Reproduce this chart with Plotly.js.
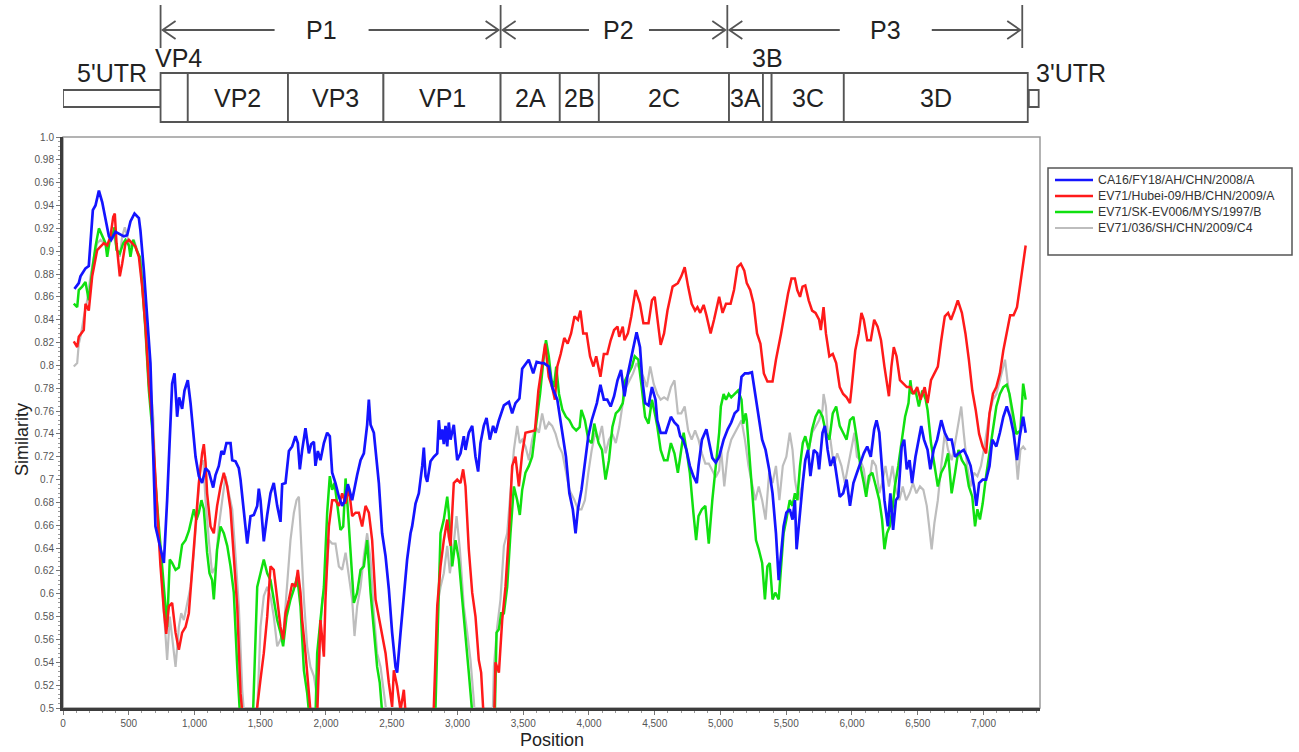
<!DOCTYPE html>
<html>
<head>
<meta charset="utf-8">
<script src="https://cdn.plot.ly/plotly-3.0.1.min.js"></script>
<style>html,body{margin:0;padding:0;background:#fff;}#chart{width:1299px;height:752px;}</style>
</head>
<body>
<div id="chart"></div>
<script>
// ---------------- DATA ----------------
const seriesNames = ['CA16/FY18/AH/CHN/2008/A', 'EV71/Hubei-09/HB/CHN/2009/A', 'EV71/SK-EV006/MYS/1997/B', 'EV71/036/SH/CHN/2009/C4'];
const seriesColors = ['#1414ff', '#ff1a1a', '#10e010', '#bdbdbd'];

const blueX = [87,120,133,171,196,227,247,273,298,323,349,366,399,463,488,513,544,577,589,615,640,665,703,741,767,792,818,830,848,868,883,906,924,949,970,990,1008,1033,1058,1084,1109,1142,1160,1185,1205,1223,1243,1274,1287,1312,1337,1350,1370,1388,1401,1426,1451,1477,1489,1502,1527,1553,1578,1603,1629,1654,1667,1692,1718,1743,1768,1786,1801,1819,1844,1870,1887,1908,1920,1938,1958,1984,2009,2029,2047,2072,2098,2123,2141,2166,2199,2237,2263,2288,2313,2326,2339,2364,2377,2402,2427,2453,2478,2503,2529,2541,2567,2592,2617,2643,2655,2681,2706,2732,2744,2757,2770,2795,2820,2846,2858,2871,2884,2896,2909,2922,2934,2947,2972,2998,3023,3048,3061,3086,3112,3137,3157,3175,3200,3221,3246,3271,3289,3315,3340,3353,3391,3416,3441,3471,3492,3523,3542,3576,3602,3636,3657,3695,3720,3759,3798,3825,3851,3877,3898,3916,3943,3969,3995,4021,4060,4087,4113,4139,4165,4191,4217,4244,4270,4296,4335,4362,4388,4406,4427,4453,4479,4506,4519,4545,4584,4623,4650,4676,4694,4715,4741,4767,4794,4820,4833,4859,4893,4911,4938,4964,4990,5024,5055,5082,5108,5134,5160,5186,5213,5239,5265,5291,5317,5343,5370,5396,5422,5443,5461,5480,5501,5527,5548,5566,5579,5600,5626,5645,5666,5684,5710,5736,5750,5776,5794,5815,5836,5862,5880,5907,5933,5959,5985,6011,6038,6064,6090,6116,6143,6169,6187,6208,6229,6247,6273,6292,6313,6334,6352,6378,6397,6417,6438,6457,6483,6509,6527,6548,6575,6596,6621,6648,6679,6706,6731,6758,6784,6810,6850,6876,6902,6928,6946,6967,6994,7020,7046,7067,7098,7125,7151,7177,7203,7229,7255,7276,7302,7321];
const blueY = [0.867,0.872,0.878,0.885,0.887,0.936,0.940,0.953,0.943,0.927,0.913,0.910,0.917,0.913,0.914,0.926,0.933,0.929,0.918,0.883,0.842,0.802,0.659,0.639,0.627,0.682,0.755,0.784,0.793,0.755,0.772,0.762,0.778,0.787,0.767,0.743,0.720,0.703,0.697,0.710,0.707,0.693,0.704,0.712,0.725,0.722,0.732,0.732,0.717,0.716,0.710,0.700,0.677,0.653,0.644,0.668,0.669,0.677,0.692,0.682,0.646,0.669,0.688,0.697,0.677,0.663,0.696,0.697,0.725,0.729,0.738,0.732,0.709,0.726,0.745,0.723,0.731,0.733,0.712,0.725,0.717,0.732,0.741,0.738,0.706,0.697,0.685,0.677,0.681,0.696,0.682,0.704,0.717,0.723,0.748,0.770,0.748,0.741,0.726,0.697,0.653,0.633,0.604,0.566,0.536,0.531,0.566,0.601,0.630,0.653,0.659,0.679,0.688,0.712,0.728,0.703,0.698,0.716,0.720,0.723,0.752,0.735,0.744,0.731,0.747,0.729,0.750,0.735,0.748,0.717,0.723,0.738,0.726,0.741,0.747,0.720,0.707,0.732,0.747,0.754,0.735,0.747,0.741,0.752,0.761,0.765,0.768,0.758,0.767,0.771,0.797,0.802,0.805,0.793,0.803,0.802,0.802,0.799,0.781,0.770,0.740,0.720,0.688,0.674,0.653,0.674,0.691,0.717,0.738,0.752,0.767,0.783,0.770,0.770,0.764,0.773,0.787,0.796,0.773,0.793,0.813,0.829,0.816,0.787,0.767,0.765,0.781,0.770,0.752,0.741,0.741,0.755,0.750,0.747,0.738,0.735,0.726,0.712,0.703,0.697,0.712,0.735,0.744,0.735,0.719,0.715,0.720,0.735,0.744,0.750,0.758,0.761,0.790,0.793,0.793,0.794,0.775,0.755,0.735,0.726,0.709,0.688,0.653,0.612,0.639,0.659,0.671,0.674,0.665,0.682,0.639,0.668,0.697,0.717,0.726,0.703,0.726,0.723,0.709,0.741,0.747,0.726,0.712,0.720,0.706,0.685,0.688,0.700,0.677,0.697,0.706,0.715,0.723,0.729,0.720,0.744,0.752,0.741,0.706,0.682,0.659,0.688,0.656,0.682,0.685,0.729,0.735,0.709,0.717,0.697,0.720,0.735,0.747,0.735,0.726,0.709,0.726,0.735,0.752,0.741,0.735,0.735,0.720,0.723,0.726,0.720,0.712,0.694,0.677,0.697,0.700,0.700,0.712,0.735,0.729,0.741,0.755,0.764,0.755,0.741,0.717,0.738,0.755,0.741];

const redX = [82,108,120,146,158,171,196,222,260,285,311,336,361,382,394,407,432,450,475,501,526,551,577,602,627,653,678,716,741,767,785,805,830,856,881,906,932,957,982,1008,1033,1058,1071,1084,1096,1122,1147,1172,1198,1223,1249,1274,1299,1325,1350,1363,1410,1465,1477,1502,1527,1553,1578,1603,1629,1654,1674,1692,1718,1743,1768,1786,1806,1819,1844,1870,1882,1910,1935,1958,1984,1996,2022,2047,2072,2098,2123,2149,2174,2199,2225,2250,2275,2301,2326,2351,2377,2402,2427,2453,2478,2503,2516,2541,2567,2592,2605,2700,2800,2820,2846,2871,2896,2922,2934,2947,2972,2998,3023,3043,3061,3086,3112,3137,3162,3180,3195,3240,3275,3289,3315,3340,3365,3391,3416,3441,3467,3492,3517,3555,3589,3615,3641,3667,3694,3720,3741,3759,3785,3812,3838,3864,3890,3916,3935,3956,3982,4008,4034,4055,4087,4113,4139,4165,4191,4217,4230,4257,4270,4296,4322,4354,4388,4414,4453,4479,4500,4519,4545,4571,4597,4636,4676,4702,4728,4754,4781,4807,4825,4846,4872,4893,4925,4951,4990,5016,5042,5077,5103,5129,5155,5181,5200,5226,5252,5278,5304,5330,5357,5396,5422,5461,5488,5514,5540,5566,5584,5605,5624,5645,5671,5697,5723,5750,5763,5784,5802,5828,5854,5880,5907,5933,5959,5985,5998,6025,6051,6072,6090,6116,6143,6169,6195,6221,6247,6281,6300,6318,6339,6365,6391,6417,6444,6470,6496,6522,6553,6575,6601,6627,6653,6679,6706,6731,6753,6779,6805,6836,6863,6889,6915,6941,6967,6994,7020,7046,7072,7098,7125,7151,7177,7203,7229,7255,7281,7302,7321];
const redY = [0.821,0.816,0.825,0.829,0.831,0.854,0.848,0.878,0.901,0.904,0.907,0.905,0.913,0.930,0.933,0.907,0.878,0.889,0.907,0.910,0.907,0.904,0.895,0.869,0.834,0.784,0.752,0.668,0.625,0.585,0.565,0.589,0.592,0.566,0.551,0.566,0.571,0.583,0.618,0.656,0.697,0.723,0.731,0.715,0.688,0.659,0.653,0.677,0.694,0.706,0.694,0.674,0.636,0.589,0.513,0.498,0.440,0.470,0.501,0.525,0.548,0.580,0.624,0.621,0.595,0.571,0.560,0.583,0.595,0.609,0.606,0.621,0.601,0.577,0.548,0.513,0.498,0.460,0.500,0.577,0.545,0.595,0.659,0.682,0.682,0.677,0.688,0.679,0.693,0.668,0.671,0.671,0.659,0.677,0.671,0.647,0.595,0.580,0.566,0.548,0.522,0.501,0.533,0.519,0.498,0.516,0.496,0.440,0.460,0.501,0.589,0.624,0.647,0.665,0.650,0.642,0.697,0.700,0.697,0.709,0.694,0.639,0.601,0.580,0.542,0.531,0.500,0.460,0.470,0.540,0.531,0.577,0.606,0.653,0.712,0.720,0.694,0.723,0.741,0.742,0.743,0.778,0.799,0.819,0.790,0.781,0.770,0.799,0.810,0.824,0.819,0.828,0.843,0.840,0.848,0.828,0.828,0.808,0.799,0.808,0.790,0.810,0.810,0.822,0.831,0.834,0.825,0.834,0.822,0.828,0.843,0.866,0.854,0.837,0.837,0.857,0.860,0.840,0.818,0.828,0.848,0.869,0.872,0.878,0.886,0.869,0.854,0.848,0.851,0.846,0.853,0.844,0.828,0.840,0.860,0.846,0.854,0.854,0.866,0.886,0.889,0.883,0.872,0.866,0.854,0.828,0.819,0.793,0.786,0.786,0.805,0.828,0.848,0.863,0.876,0.876,0.866,0.860,0.869,0.870,0.857,0.848,0.846,0.840,0.831,0.851,0.828,0.808,0.810,0.802,0.781,0.775,0.772,0.767,0.781,0.813,0.828,0.846,0.840,0.822,0.822,0.840,0.834,0.822,0.799,0.773,0.799,0.816,0.808,0.787,0.784,0.781,0.781,0.775,0.781,0.770,0.781,0.767,0.787,0.793,0.799,0.822,0.843,0.846,0.840,0.848,0.857,0.846,0.828,0.805,0.778,0.761,0.740,0.729,0.723,0.758,0.775,0.781,0.793,0.813,0.828,0.844,0.844,0.851,0.872,0.892,0.905];

const greenX = [82,108,120,146,171,196,222,247,273,298,323,336,356,374,392,407,432,458,475,501,513,534,559,584,602,627,653,678,703,729,754,772,792,812,830,856,881,906,932,957,977,995,1015,1033,1053,1071,1096,1114,1134,1147,1172,1198,1223,1249,1274,1299,1325,1345,1400,1440,1446,1462,1477,1502,1527,1553,1578,1603,1629,1654,1674,1700,1730,1756,1781,1806,1832,1857,1870,1900,1915,1933,1958,1984,2009,2029,2047,2065,2085,2110,2131,2149,2166,2187,2212,2237,2263,2288,2313,2339,2364,2389,2409,2427,2550,2750,2830,2846,2871,2896,2922,2934,2960,2985,3010,3036,3061,3086,3112,3200,3285,3297,3315,3332,3353,3378,3403,3429,3454,3474,3492,3517,3543,3568,3589,3628,3654,3673,3694,3715,3733,3751,3772,3798,3825,3851,3877,3903,3929,3942,3969,3995,4021,4040,4073,4099,4126,4152,4178,4204,4230,4257,4275,4301,4327,4348,4375,4401,4427,4453,4479,4506,4519,4545,4571,4597,4623,4650,4676,4694,4720,4741,4767,4794,4815,4833,4859,4885,4911,4938,4964,4990,5003,5024,5042,5063,5082,5108,5134,5160,5173,5192,5200,5226,5252,5270,5291,5317,5338,5357,5375,5396,5417,5443,5461,5480,5501,5527,5548,5566,5584,5605,5626,5645,5671,5697,5723,5750,5776,5802,5828,5854,5880,5907,5933,5959,5985,6011,6038,6064,6090,6108,6129,6155,6182,6208,6229,6247,6266,6287,6308,6326,6352,6378,6404,6430,6444,6457,6483,6509,6535,6561,6575,6601,6627,6653,6679,6706,6731,6758,6784,6810,6836,6863,6889,6915,6936,6954,6973,6994,7020,7046,7072,7098,7125,7151,7177,7198,7224,7250,7281,7302,7321];
const greenY = [0.854,0.851,0.866,0.869,0.873,0.857,0.883,0.904,0.920,0.913,0.907,0.895,0.910,0.913,0.921,0.901,0.898,0.907,0.910,0.905,0.895,0.910,0.901,0.895,0.872,0.831,0.778,0.745,0.697,0.659,0.624,0.595,0.571,0.630,0.627,0.621,0.623,0.643,0.647,0.655,0.665,0.674,0.665,0.671,0.682,0.674,0.636,0.618,0.612,0.595,0.639,0.659,0.653,0.642,0.624,0.601,0.536,0.496,0.440,0.470,0.498,0.560,0.606,0.618,0.630,0.618,0.612,0.595,0.577,0.566,0.554,0.580,0.595,0.604,0.615,0.589,0.533,0.513,0.498,0.460,0.470,0.548,0.577,0.606,0.671,0.703,0.691,0.697,0.679,0.656,0.659,0.701,0.674,0.639,0.592,0.601,0.621,0.624,0.647,0.601,0.566,0.536,0.522,0.496,0.440,0.440,0.490,0.560,0.653,0.665,0.685,0.671,0.624,0.647,0.630,0.595,0.566,0.531,0.496,0.440,0.500,0.566,0.569,0.583,0.583,0.606,0.653,0.694,0.682,0.669,0.691,0.706,0.712,0.720,0.740,0.775,0.805,0.822,0.808,0.787,0.781,0.799,0.775,0.761,0.755,0.752,0.746,0.743,0.746,0.761,0.752,0.735,0.732,0.749,0.732,0.726,0.700,0.717,0.746,0.758,0.761,0.767,0.787,0.793,0.799,0.808,0.805,0.781,0.755,0.749,0.770,0.755,0.747,0.726,0.717,0.717,0.732,0.723,0.706,0.720,0.741,0.726,0.706,0.671,0.647,0.668,0.674,0.677,0.644,0.682,0.712,0.741,0.764,0.775,0.770,0.775,0.772,0.775,0.778,0.770,0.749,0.758,0.752,0.712,0.677,0.647,0.639,0.627,0.595,0.624,0.627,0.595,0.601,0.595,0.624,0.653,0.665,0.682,0.677,0.688,0.682,0.712,0.732,0.738,0.726,0.744,0.755,0.761,0.755,0.741,0.735,0.758,0.764,0.747,0.741,0.735,0.752,0.755,0.735,0.712,0.697,0.685,0.703,0.706,0.694,0.682,0.665,0.639,0.653,0.659,0.674,0.694,0.712,0.732,0.755,0.767,0.787,0.775,0.778,0.764,0.778,0.770,0.761,0.732,0.712,0.694,0.706,0.712,0.723,0.688,0.706,0.726,0.717,0.712,0.694,0.685,0.659,0.674,0.665,0.679,0.703,0.723,0.747,0.764,0.775,0.781,0.783,0.775,0.758,0.740,0.743,0.784,0.770];

const grayX = [82,108,120,138,158,184,209,235,260,285,311,336,361,387,412,432,450,470,488,513,539,564,589,615,640,665,686,703,729,754,772,792,812,830,856,881,899,919,944,970,995,1020,1046,1066,1084,1109,1134,1160,1185,1211,1236,1261,1287,1312,1337,1363,1375,1430,1470,1485,1502,1527,1553,1578,1603,1629,1654,1679,1705,1730,1756,1776,1794,1811,1832,1857,1882,1908,1928,1946,1971,1996,2022,2047,2072,2098,2123,2149,2174,2199,2217,2237,2263,2288,2313,2339,2364,2389,2415,2440,2460,2600,2780,2830,2846,2871,2896,2922,2942,2967,2993,3018,3048,3074,3099,3124,3140,3220,3265,3277,3302,3327,3353,3378,3403,3429,3454,3474,3492,3517,3543,3568,3593,3619,3644,3669,3695,3720,3746,3772,3798,3825,3851,3890,3916,3943,3969,3995,4021,4047,4073,4099,4126,4152,4178,4204,4230,4257,4283,4309,4335,4362,4388,4414,4440,4466,4492,4519,4545,4571,4597,4623,4650,4676,4702,4728,4754,4781,4807,4833,4859,4885,4911,4938,4964,4990,5003,5029,5055,5082,5108,5134,5160,5186,5213,5239,5265,5291,5317,5343,5370,5396,5422,5448,5474,5501,5527,5548,5566,5592,5619,5645,5671,5697,5723,5750,5776,5784,5802,5815,5836,5862,5888,5920,5946,5972,5998,6019,6038,6064,6090,6111,6135,6155,6182,6208,6229,6255,6281,6308,6334,6360,6386,6412,6438,6464,6490,6517,6543,6569,6587,6606,6627,6653,6679,6706,6731,6758,6784,6810,6831,6850,6876,6902,6928,6954,6981,7007,7046,7072,7098,7125,7151,7164,7182,7203,7229,7261,7281,7302,7321];
const grayY = [0.799,0.802,0.819,0.828,0.842,0.857,0.878,0.895,0.907,0.910,0.907,0.904,0.910,0.913,0.901,0.895,0.913,0.921,0.913,0.904,0.910,0.901,0.892,0.866,0.831,0.784,0.755,0.697,0.653,0.606,0.571,0.542,0.580,0.560,0.536,0.571,0.583,0.577,0.592,0.606,0.636,0.674,0.712,0.717,0.682,0.647,0.618,0.624,0.659,0.682,0.703,0.688,0.674,0.633,0.589,0.516,0.498,0.440,0.480,0.520,0.571,0.598,0.606,0.598,0.580,0.554,0.560,0.569,0.606,0.647,0.671,0.682,0.685,0.647,0.595,0.554,0.536,0.528,0.513,0.536,0.595,0.606,0.647,0.644,0.644,0.624,0.621,0.636,0.615,0.595,0.563,0.589,0.606,0.633,0.653,0.630,0.583,0.548,0.536,0.516,0.496,0.440,0.440,0.500,0.589,0.606,0.618,0.642,0.618,0.639,0.668,0.639,0.589,0.566,0.542,0.507,0.480,0.440,0.480,0.536,0.571,0.595,0.642,0.653,0.688,0.726,0.747,0.732,0.735,0.729,0.717,0.735,0.747,0.741,0.758,0.744,0.750,0.747,0.740,0.729,0.723,0.705,0.691,0.682,0.674,0.674,0.682,0.706,0.726,0.741,0.735,0.747,0.723,0.735,0.740,0.732,0.746,0.767,0.781,0.787,0.793,0.802,0.796,0.790,0.781,0.799,0.784,0.775,0.770,0.772,0.770,0.781,0.787,0.758,0.758,0.764,0.743,0.735,0.743,0.735,0.723,0.714,0.714,0.708,0.702,0.708,0.729,0.694,0.723,0.735,0.741,0.747,0.752,0.735,0.712,0.697,0.682,0.694,0.682,0.665,0.706,0.697,0.712,0.682,0.712,0.720,0.741,0.726,0.700,0.682,0.694,0.717,0.726,0.741,0.747,0.752,0.761,0.775,0.764,0.741,0.735,0.712,0.723,0.712,0.697,0.712,0.729,0.741,0.720,0.717,0.709,0.691,0.700,0.717,0.712,0.688,0.697,0.712,0.694,0.712,0.691,0.682,0.694,0.682,0.688,0.697,0.688,0.694,0.691,0.677,0.659,0.639,0.662,0.682,0.712,0.741,0.726,0.717,0.732,0.752,0.764,0.741,0.712,0.694,0.706,0.703,0.712,0.729,0.758,0.770,0.775,0.787,0.799,0.805,0.787,0.770,0.746,0.700,0.726,0.729,0.726];

// genome map (nucleotide positions)
const segNames = ['VP4', 'VP2', 'VP3', 'VP1', '2A', '2B', '2C', '3A', '3B', '3C', '3D'];
const segStart = [742, 949, 1711, 2437, 3328, 3778, 4075, 5065, 5323, 5389, 5938];
const segEnd   = [949, 1711, 2437, 3328, 3778, 4075, 5065, 5323, 5389, 5938, 7337];
const utrNames = ["5'UTR", "3'UTR"];
const utrStart = [0, 7345];
const utrEnd   = [742, 7420];
const polyNames = ['P1', 'P2', 'P3'];
const polyStart = [742, 3328, 5052];
const polyEnd   = [3328, 5052, 7295];

// axis tick labels
const xTickLabels = ['0', '500', '1,000', '1,500', '2,000', '2,500', '3,000', '3,500', '4,000', '4,500', '5,000', '5,500', '6,000', '6,500', '7,000'];
const yTickLabels = ['0.5', '0.52', '0.54', '0.56', '0.58', '0.6', '0.62', '0.64', '0.66', '0.68', '0.7', '0.72', '0.74', '0.76', '0.78', '0.8', '0.82', '0.84', '0.86', '0.88', '0.9', '0.92', '0.94', '0.96', '0.98', '1.0'];

// ---------------- LAYOUT HELPERS ----------------
const W = 1299, H = 752;
const M = {l: 63, r: 259, t: 137, b: 44};
const plotW = W - M.l - M.r, plotH = H - M.t - M.b;
const XMAX = 7430;
const py = p => (H - M.b - p) / plotH;          // pixel row -> paper y
const pxp = p => (p - M.l) / plotW;             // pixel col -> paper x
const dpx = XMAX / plotW;                       // data units per pixel
const FONT = 'Liberation Sans, Arial, sans-serif';
const mapLine = {color: '#555', width: 1.8};
const mapFont = {family: FONT, size: 25, color: '#222'};

const shapes = [];
const annotations = [];

// plot frame (thin, top/right)
shapes.push({type: 'rect', xref: 'paper', yref: 'paper', x0: 0, x1: 1, y0: 0, y1: 1, line: {color: '#9a9a9a', width: 1.5}, layer: 'below'});

// legend (drawn box, sample lines, labels)
shapes.push({type: 'rect', xref: 'paper', yref: 'paper', x0: pxp(1048), x1: pxp(1292), y0: py(255), y1: py(168), line: {color: '#555', width: 1.5}, fillcolor: 'rgba(0,0,0,0)'});
seriesNames.forEach((n, i) => {
  const yy = py(180 + 16 * i);
  shapes.push({type: 'line', xref: 'paper', yref: 'paper', x0: pxp(1055), x1: pxp(1093), y0: yy, y1: yy, line: {color: seriesColors[i], width: i === 3 ? 2.2 : 2.6}});
  annotations.push({xref: 'paper', yref: 'paper', x: pxp(1096), y: yy, text: n, showarrow: false, xanchor: 'left', yanchor: 'middle', font: {family: FONT, size: 12.3, color: '#333'}});
});

// UTR boxes
utrNames.forEach((n, i) => {
  shapes.push({type: 'rect', xref: 'x', yref: 'paper', x0: utrStart[i], x1: utrEnd[i], y0: py(107), y1: py(90), line: mapLine, fillcolor: '#fff'});
});
annotations.push({xref: 'x', yref: 'paper', x: (utrStart[0] + utrEnd[0]) / 2, y: py(73), text: utrNames[0], showarrow: false, font: mapFont, xanchor: 'center', yanchor: 'middle'});
annotations.push({xref: 'x', yref: 'paper', x: utrStart[1], y: py(73), xshift: 5, text: utrNames[1], showarrow: false, font: mapFont, xanchor: 'left', yanchor: 'middle'});

// polyprotein segments
segNames.forEach((n, i) => {
  shapes.push({type: 'rect', xref: 'x', yref: 'paper', x0: segStart[i], x1: segEnd[i], y0: py(122), y1: py(73), line: mapLine, fillcolor: '#fff'});
  const narrow = (segEnd[i] - segStart[i]) < 250;
  annotations.push({xref: 'x', yref: 'paper', x: (segStart[i] + segEnd[i]) / 2, xshift: (narrow && i === 0) ? 4 : 0,
    y: narrow ? py(58) : py(98), text: n, showarrow: false, font: mapFont, xanchor: 'center', yanchor: 'middle'});
});

// P1/P2/P3 arrows
const arrowY = py(30), headDx = 13 * dpx, headDy = 9 / plotH;
const labelShiftPx = [-9, 5, 11];
const labelGapPx = [47, 30, 46];
polyNames.forEach((n, i) => {
  const a = polyStart[i], b = polyEnd[i];
  const c = (a + b) / 2 + labelShiftPx[i] * dpx, gap = labelGapPx[i] * dpx;
  shapes.push({type: 'line', xref: 'x', yref: 'paper', x0: a, x1: a, y0: py(48), y1: py(5), line: mapLine});
  const la = a + 2 * dpx, rb = b - 2 * dpx;
  shapes.push({type: 'path', xref: 'x', yref: 'paper', line: mapLine,
    path: `M${la + headDx},${arrowY + headDy} L${la},${arrowY} L${la + headDx},${arrowY - headDy} M${la},${arrowY} L${c - gap},${arrowY}`});
  shapes.push({type: 'path', xref: 'x', yref: 'paper', line: mapLine,
    path: `M${rb - headDx},${arrowY + headDy} L${rb},${arrowY} L${rb - headDx},${arrowY - headDy} M${rb},${arrowY} L${c + gap},${arrowY}`});
  annotations.push({xref: 'x', yref: 'paper', x: c, y: arrowY, text: n, showarrow: false, font: mapFont, xanchor: 'center', yanchor: 'middle'});
});
shapes.push({type: 'line', xref: 'x', yref: 'paper', x0: polyEnd[2], x1: polyEnd[2], y0: py(48), y1: py(5), line: mapLine});

// axis titles
annotations.push({xref: 'paper', yref: 'paper', x: pxp(552), y: py(740), text: 'Position', showarrow: false, font: {family: FONT, size: 18, color: '#222'}, xanchor: 'center', yanchor: 'middle'});
annotations.push({xref: 'paper', yref: 'paper', x: pxp(22), y: py(440), text: 'Similarity', textangle: -90, showarrow: false, font: {family: FONT, size: 18, color: '#222'}, xanchor: 'center', yanchor: 'middle'});

// ---------------- TRACES ----------------
const mk = (x, y, name, color, width) => ({x, y, name, type: 'scatter', mode: 'lines', line: {color, width}, cliponaxis: true, showlegend: false});
const traces = [
  mk(grayX, grayY, seriesNames[3], seriesColors[3], 2.2),
  mk(greenX, greenY, seriesNames[2], seriesColors[2], 2.5),
  mk(redX, redY, seriesNames[1], seriesColors[1], 2.5),
  mk(blueX, blueY, seriesNames[0], seriesColors[0], 2.7)
];

const layout = {
  width: W, height: H,
  margin: M,
  paper_bgcolor: '#fff', plot_bgcolor: '#fff',
  font: {family: FONT, color: '#333'},
  showlegend: false,
  xaxis: {range: [0, XMAX], showgrid: false, zeroline: false, showline: true, linecolor: '#3c3c3c', linewidth: 3,
    tickmode: 'array', tickvals: xTickLabels.map(s => Number(s.replace(/,/g, ''))), ticktext: xTickLabels,
    ticks: 'outside', ticklen: 4, tickcolor: '#777', tickwidth: 1, tickfont: {family: FONT, size: 10, color: '#555'},
    minor: {tickmode: 'linear', tick0: 0, dtick: 100, ticks: 'outside', ticklen: 2, tickcolor: '#999'}},
  yaxis: {range: [0.5, 1.0], showgrid: false, zeroline: false, showline: true, linecolor: '#3c3c3c', linewidth: 3,
    tickmode: 'array', tickvals: yTickLabels.map(Number), ticktext: yTickLabels,
    ticks: 'outside', ticklen: 4, tickcolor: '#777', tickwidth: 1, tickfont: {family: FONT, size: 10, color: '#555'},
    minor: {tickmode: 'linear', tick0: 0.5, dtick: 0.004, ticks: 'outside', ticklen: 2, tickcolor: '#999'}},
  shapes, annotations
};

Plotly.newPlot('chart', traces, layout, {staticPlot: true, displayModeBar: false});
</script>
</body>
</html>
